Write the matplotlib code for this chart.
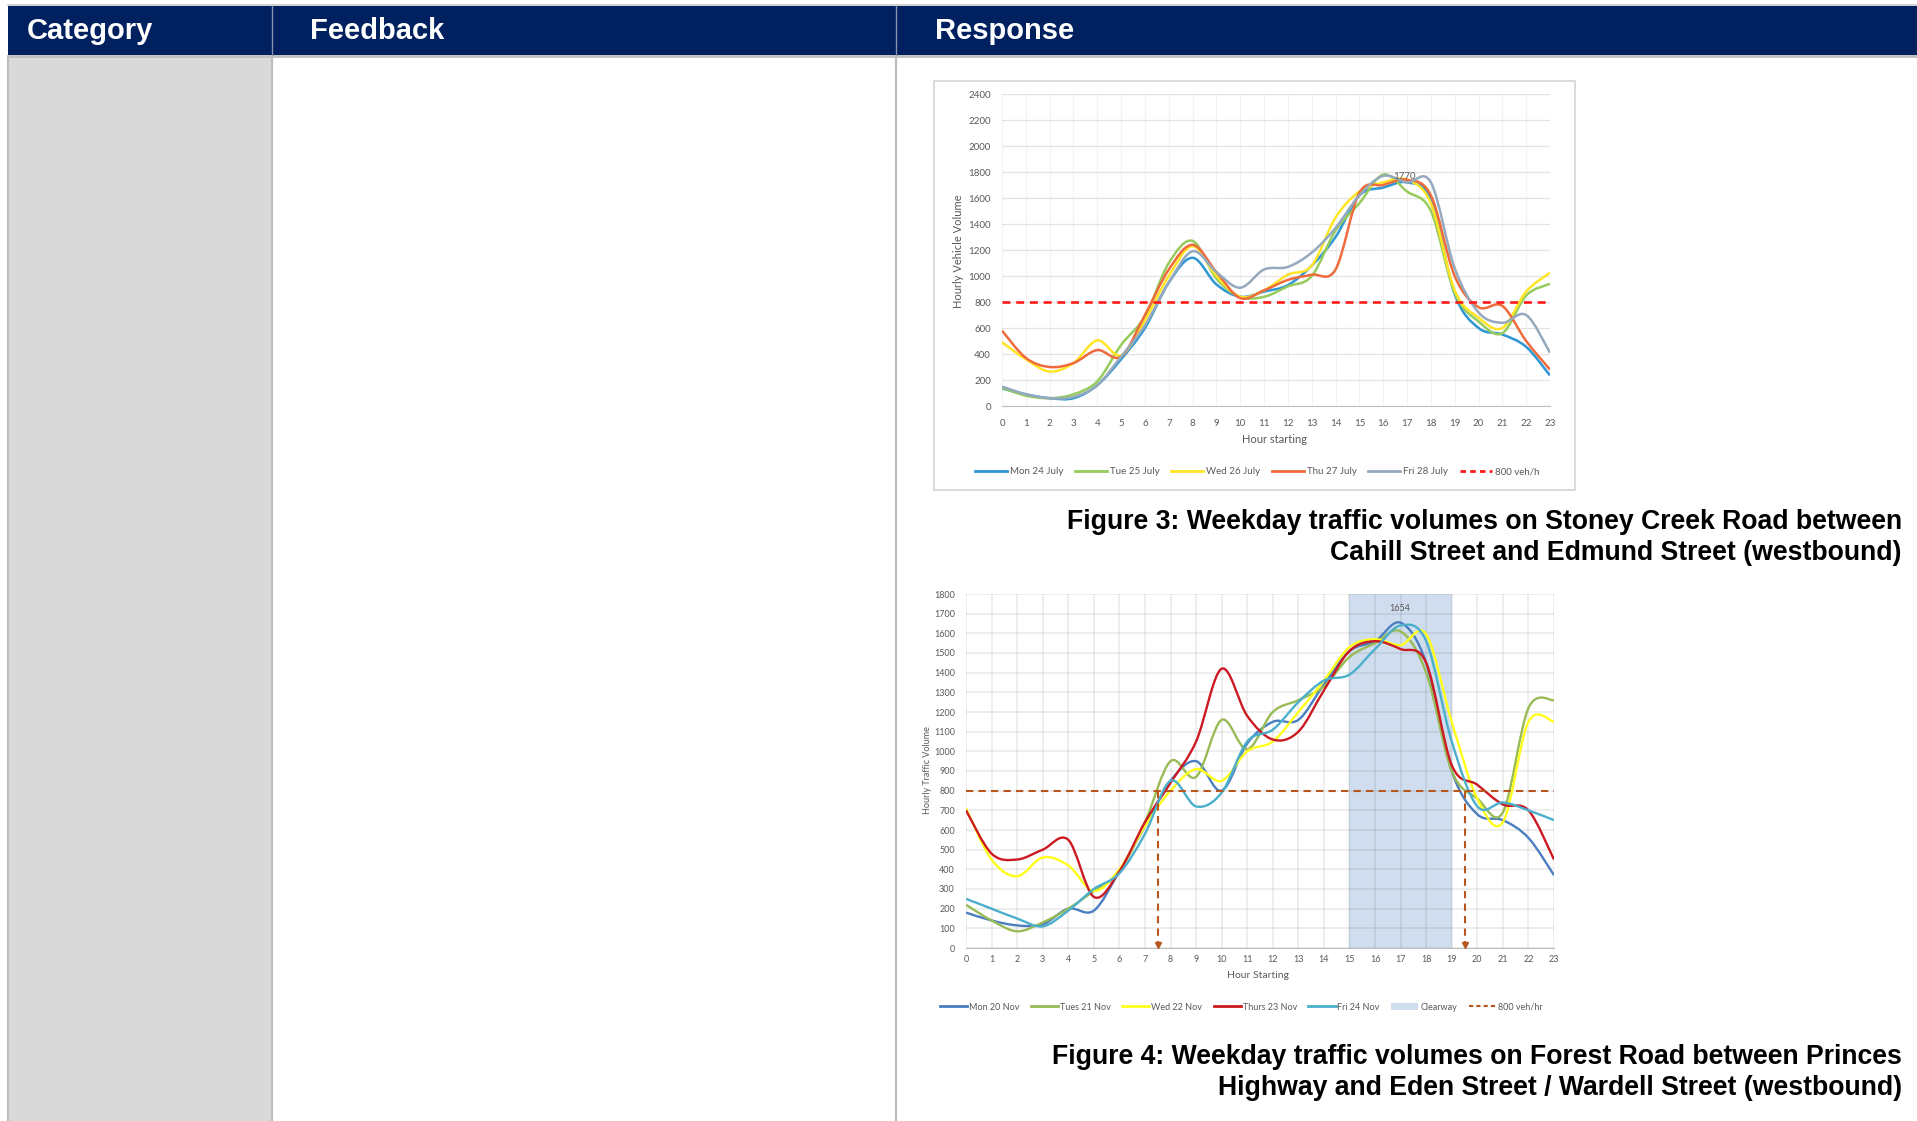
import numpy as np
from matplotlib import pyplot as plt
from matplotlib.path import Path
from matplotlib.patches import PathPatch, Rectangle
from matplotlib.lines import Line2D

W, H = 1917, 1121

hours = list(range(24))

# Figure 3 - Stoney Creek Road (July)
july_names = ['Mon 24 July', 'Tue 25 July', 'Wed 26 July', 'Thu 27 July', 'Fri 28 July']
mon_jul = [135, 90, 60, 60, 160, 360, 600, 950, 1140, 935, 840, 880, 930, 1080, 1300, 1620, 1680, 1720, 1590, 860, 600, 550, 455, 235]
tue_jul = [140, 80, 60, 90, 190, 470, 690, 1100, 1270, 980, 840, 840, 920, 1000, 1350, 1560, 1780, 1650, 1500, 870, 650, 560, 850, 940]
wed_jul = [490, 360, 265, 330, 505, 390, 660, 1000, 1230, 1000, 840, 890, 1010, 1080, 1450, 1650, 1720, 1740, 1560, 890, 680, 600, 880, 1025]
thu_jul = [580, 370, 300, 330, 430, 380, 700, 1050, 1240, 1030, 830, 890, 970, 1010, 1050, 1640, 1700, 1740, 1620, 1000, 760, 770, 500, 280]
fri_jul = [150, 90, 60, 70, 160, 380, 620, 950, 1190, 1030, 910, 1050, 1070, 1180, 1370, 1620, 1770, 1720, 1720, 1060, 720, 640, 700, 410]
july_series = [mon_jul, tue_jul, wed_jul, thu_jul, fri_jul]
july_colors = ['#2E96D4', '#96CC5C', '#FFE524', '#EF6B3C', '#95A9BE']
july_peak = 1770

# Figure 4 - Forest Road (November)
nov_names = ['Mon 20 Nov', 'Tues 21 Nov', 'Wed 22 Nov', 'Thurs 23 Nov', 'Fri 24 Nov']
mon_nov = [180, 140, 115, 120, 200, 190, 390, 620, 850, 950, 800, 1040, 1150, 1160, 1340, 1510, 1560, 1654, 1450, 900, 680, 650, 560, 370]
tue_nov = [220, 140, 85, 130, 200, 290, 390, 640, 950, 870, 1160, 1010, 1200, 1260, 1330, 1480, 1550, 1610, 1400, 900, 760, 690, 1220, 1260]
wed_nov = [710, 450, 365, 460, 420, 290, 400, 620, 800, 910, 850, 1000, 1050, 1200, 1360, 1530, 1570, 1540, 1595, 1150, 760, 640, 1150, 1150]
thu_nov = [700, 480, 450, 500, 550, 260, 390, 640, 840, 1050, 1420, 1180, 1060, 1100, 1310, 1510, 1560, 1520, 1450, 930, 830, 730, 700, 450]
fri_nov = [250, 200, 150, 110, 190, 300, 380, 580, 850, 720, 790, 1050, 1110, 1250, 1360, 1390, 1520, 1640, 1560, 1050, 720, 740, 700, 650]
nov_series = [mon_nov, tue_nov, wed_nov, thu_nov, fri_nov]
nov_colors = ['#4A7EC0', '#98BB55', '#FFFF1A', '#CC1A22', '#4BAFCB']
nov_peak = 1654
clearway = [15, 19]
crossings = [7.5, 19.5]

threshold = 800

plt.rcParams['font.family'] = ['Lato', 'DejaVu Sans']
grey_txt = '#595959'


def smooth_path(xs, ys):
    # excel style smoothed line through the points
    pts = np.column_stack([xs, ys]).astype(float)
    n = len(pts)
    verts = [pts[0]]
    codes = [Path.MOVETO]
    for i in range(n - 1):
        p0 = pts[max(i - 1, 0)]
        p1 = pts[i]
        p2 = pts[i + 1]
        p3 = pts[min(i + 2, n - 1)]
        verts += [p1 + (p2 - p0) / 6, p2 - (p3 - p1) / 6, p2]
        codes += [Path.CURVE4] * 3
    return Path(verts, codes)


def fr(x, y, w, h):
    return [x / W, 1 - (y + h) / H, w / W, h / H]


fig = plt.figure(figsize=(W / 100, H / 100), dpi=100)

# table background
bg = fig.add_axes([0, 0, 1, 1])
bg.set_xlim(0, W)
bg.set_ylim(H, 0)
bg.axis('off')
bg.add_patch(Rectangle((8, 57), 263, H - 57, facecolor='#D9D9D9', edgecolor='none'))
bg.add_patch(Rectangle((8, 6), W - 8, 49, facecolor='#00205F', edgecolor='none'))
bg.plot([8, W], [5, 5], color='#C8C8C8', lw=1.2)
bg.plot([8, W], [56, 56], color='#BFBFBF', lw=2)
for xx in [8, 272, 896]:
    bg.plot([xx, xx], [57, H], color='#BFBFBF', lw=1.6)
for xx in [272, 896]:
    bg.plot([xx, xx], [6, 55], color='#8A93AE', lw=1)
hdr = dict(color='white', fontsize=21, fontweight='bold', va='center', family='Liberation Sans')
bg.text(27, 31, 'Category', **hdr)
bg.text(310, 31, 'Feedback', **hdr)
bg.text(935, 31, 'Response', **hdr)

bg.add_patch(Rectangle((934, 81), 641, 409, facecolor='white', edgecolor='#D4D4D4', lw=1.2))

cap = dict(fontsize=19.2, fontweight='bold', ha='right', va='center', family='Liberation Sans', color='black')
bg.text(1902, 522, 'Figure 3: Weekday traffic volumes on Stoney Creek Road between', **cap)
bg.text(1902, 553, 'Cahill Street and Edmund Street (westbound)', **cap)
bg.text(1902, 1057, 'Figure 4: Weekday traffic volumes on Forest Road between Princes', **cap)
bg.text(1902, 1088, 'Highway and Eden Street / Wardell Street (westbound)', **cap)

# ---- Figure 3 chart ----
ax1 = fig.add_axes(fr(1002, 94, 548, 312))
ax1.set_facecolor('none')
for s, c in zip(july_series, july_colors):
    ax1.add_patch(PathPatch(smooth_path(hours, s), fill=False, edgecolor=c, lw=1.8, zorder=3))
ax1.plot([0, 23], [threshold, threshold], color='#FF1A1A', lw=1.9, ls=(0, (3, 2.2)), zorder=4)
ax1.text(16.9, 1768, str(july_peak), ha='center', va='center', fontsize=7, color=grey_txt, zorder=5)
ax1.set_xlim(0, 23)
ax1.set_ylim(0, 2400)
ax1.set_xticks(hours)
ax1.set_yticks(range(0, 2401, 200))
ax1.grid(True, axis='y', color='#E3E3E3', lw=0.9)
ax1.grid(True, axis='x', color='#F2F2F2', lw=0.8)
ax1.set_axisbelow(True)
for sp in ['top', 'right', 'left']:
    ax1.spines[sp].set_visible(False)
ax1.spines['bottom'].set_color('#BFBFBF')
ax1.tick_params(length=0, labelsize=7, labelcolor=grey_txt)
ax1.tick_params(axis='y', pad=8)
ax1.tick_params(axis='x', pad=9)
ax1.set_xlabel('Hour starting', fontsize=8, color=grey_txt)
ax1.set_ylabel('Hourly Vehicle Volume', fontsize=8, color=grey_txt)
ax1.xaxis.set_label_coords(0.498, -0.106)
ax1.xaxis.label.set_va('center')
ax1.yaxis.set_label_coords(-0.080, 0.497)
ax1.yaxis.label.set_va('center')

h1 = [Line2D([], [], color=c, lw=2) for c in july_colors]
h1.append(Line2D([], [], color='#FF1A1A', lw=2, ls=(0, (2, 1.5))))
fig.legend(h1, july_names + ['800 veh/h'], loc='center', bbox_to_anchor=(1257 / W, 1 - 472 / H),
           ncol=6, frameon=False, fontsize=7, handlelength=3.3, handletextpad=0.3,
           columnspacing=1.2, labelcolor=grey_txt)

# ---- Figure 4 chart ----
ax2 = fig.add_axes(fr(966, 594, 588, 354))
ax2.set_facecolor('none')
ax2.axvspan(clearway[0], clearway[1], color='#CFDDEE', zorder=0.3, lw=0)
for s, c in zip(nov_series, nov_colors):
    ax2.add_patch(PathPatch(smooth_path(hours, s), fill=False, edgecolor=c, lw=1.7, zorder=3))
ax2.plot([0, 23], [threshold, threshold], color='#B8561D', lw=1.5, ls=(0, (3.5, 2.5)), zorder=4)
for xc in crossings:
    ax2.plot([xc, xc], [threshold, 25], color='#B8561D', lw=1.5, ls=(0, (3.5, 2.5)), zorder=4)
    ax2.plot([xc], [14], marker='v', ms=5, color='#B8561D', zorder=4)
ax2.text(16.97, 1725, str(nov_peak), ha='center', va='center', fontsize=6.5, color=grey_txt, zorder=5)
ax2.set_xlim(0, 23)
ax2.set_ylim(0, 1800)
ax2.set_xticks(hours)
ax2.set_yticks(range(0, 1801, 100))
ax2.grid(True, color='black', alpha=0.085, lw=1.1)
ax2.set_axisbelow(True)
for sp in ['top', 'right', 'left']:
    ax2.spines[sp].set_visible(False)
ax2.spines['bottom'].set_color('#BFBFBF')
ax2.tick_params(length=0, labelsize=6.5, labelcolor=grey_txt)
ax2.tick_params(axis='y', pad=8)
ax2.tick_params(axis='x', pad=5)
ax2.set_xlabel('Hour Starting', fontsize=7.5, color=grey_txt)
ax2.set_ylabel('Hourly Traffic Volume', fontsize=6.5, color=grey_txt)
ax2.xaxis.set_label_coords(0.497, -0.079)
ax2.xaxis.label.set_va('center')
ax2.yaxis.set_label_coords(-0.066, 0.503)
ax2.yaxis.label.set_va('center')

h2 = [Line2D([], [], color=c, lw=2) for c in nov_colors]
h2.append(Rectangle((0, 0), 1, 1, facecolor='#CFDDEE', edgecolor='none'))
h2.append(Line2D([], [], color='#B8561D', lw=1.5, ls=(0, (2, 1.5))))
leg2 = fig.legend(h2, nov_names + ['Clearway', '800 veh/hr'], loc='center',
                  bbox_to_anchor=(1241 / W, 1 - 1007 / H), ncol=7, frameon=False, fontsize=6.5,
                  handlelength=3.0, handletextpad=0.2, columnspacing=1.3, labelcolor=grey_txt)

fig.savefig('out.png', dpi=100)
